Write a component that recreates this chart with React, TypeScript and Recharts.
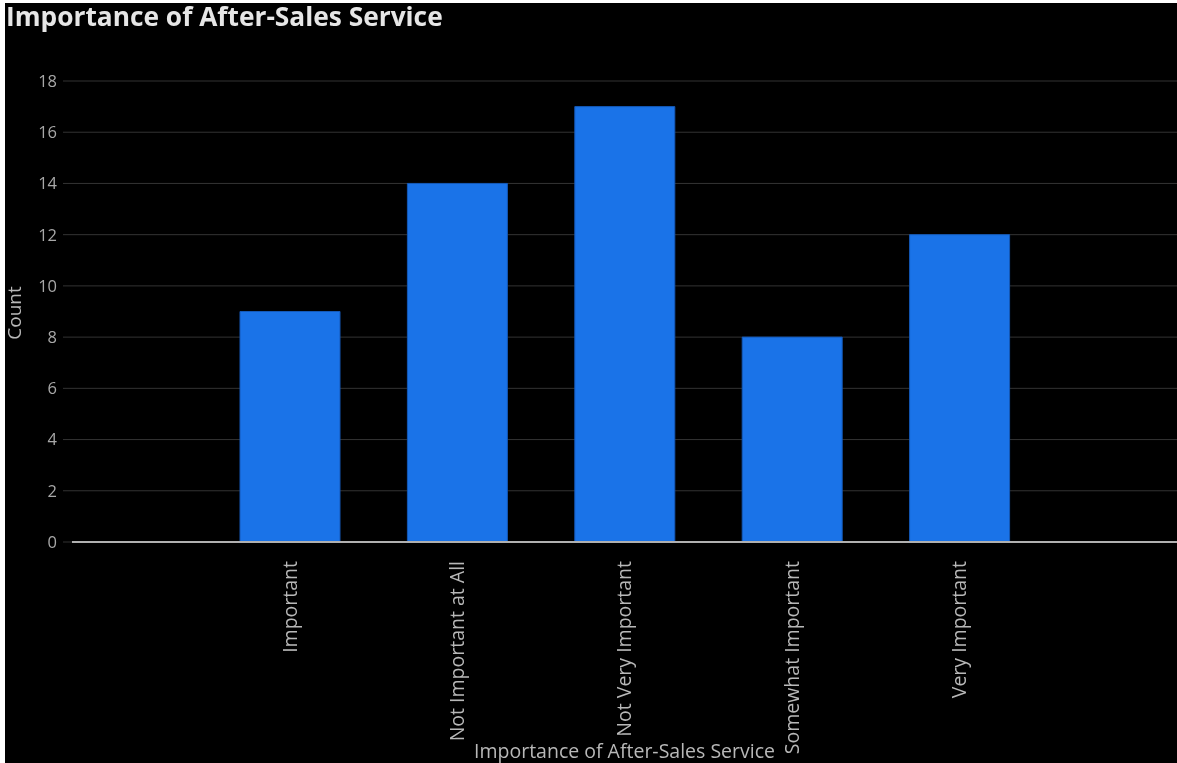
import React from 'react';
import { BarChart, Bar, XAxis, YAxis, CartesianGrid } from 'recharts';

const categories = ['Important', 'Not Important at All', 'Not Very Important', 'Somewhat Important', 'Very Important'];
const counts = [9, 14, 17, 8, 12];
const yTicks = [0, 2, 4, 6, 8, 10, 12, 14, 16, 18];

const data = categories.map((name, i) => ({ name, count: counts[i] }));

const FONT = '"Open Sans", Roboto, sans-serif';

const XTick = (props: any) => {
  const { x, y, payload } = props;
  return (
    <g transform={`translate(${x},${y})`}>
      <text
        transform="rotate(-90)"
        x={-11}
        y={0}
        dy="0.35em"
        textAnchor="end"
        fill="#b8b8b8"
        fontSize={19.5}
        fontFamily={FONT}
      >
        {payload.value}
      </text>
    </g>
  );
};

export default function App() {
  return (
    <div
      style={{
        position: 'fixed',
        left: 5,
        top: 3,
        width: 1172,
        height: 760,
        background: '#000',
      }}
    >
      <div
        style={{
          position: 'absolute',
          left: 1,
          top: 0,
          fontFamily: FONT,
          fontSize: 26.3,
          lineHeight: '26px',
          fontWeight: 700,
          color: '#e6e6e6',
          whiteSpace: 'nowrap',
        }}
      >
        Importance of After-Sales Service
      </div>
      <div style={{ position: 'absolute', left: -5, top: 0 }}>
        <BarChart
          width={1177}
          height={760}
          data={data}
          margin={{ top: 78, right: 0, left: 0, bottom: 0 }}
        >
          <CartesianGrid vertical={false} stroke="#333" strokeWidth={1} />
          <XAxis
            dataKey="name"
            height={221}
            interval={0}
            padding={{ left: 134, right: 134 }}
            axisLine={{ stroke: '#b0b0b0', strokeWidth: 2 }}
            tickLine={false}
            tick={<XTick />}
            label={({ viewBox }: any) => (
              <text
                x={viewBox.x + viewBox.width / 2}
                y={viewBox.y + viewBox.height - 5}
                textAnchor="middle"
                fill="#b8b8b8"
                fontSize={19.5}
                fontFamily={FONT}
              >
                Importance of After-Sales Service
              </text>
            )}
          />
          <YAxis
            width={72}
            domain={[0, 18]}
            ticks={yTicks}
            interval={0}
            axisLine={false}
            tickSize={9}
            tickMargin={6}
            tickLine={{ stroke: '#333' }}
            tick={{ fill: '#a8a8a8', fontSize: 16.5, fontFamily: FONT }}
            label={() => (
              <text
                transform="translate(21, 310) rotate(-90)"
                textAnchor="middle"
                fill="#b8b8b8"
                fontSize={19}
                fontFamily={FONT}
              >
                Count
              </text>
            )}
          />
          <Bar
            dataKey="count"
            fill="#1a73e8"
            stroke="#1459b8"
            strokeWidth={1}
            barSize={100}
            isAnimationActive={false}
          />
        </BarChart>
      </div>
    </div>
  );
}
